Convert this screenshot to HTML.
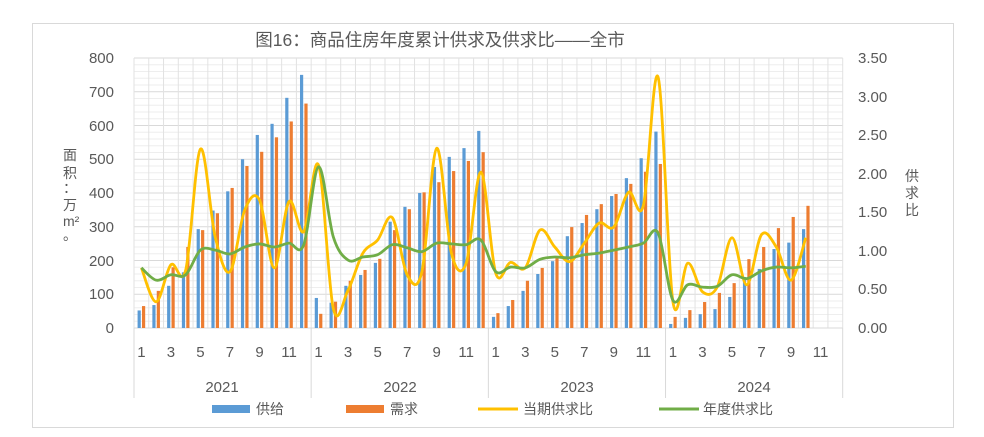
<!DOCTYPE html>
<html><head><meta charset="utf-8"><style>
body{margin:0;background:#fff;width:984px;height:437px;overflow:hidden}
svg{position:absolute;left:0;top:0}
text{font-family:"Liberation Sans","Noto Sans CJK SC",sans-serif;fill:#595959}
</style></head><body>
<svg id="s" width="984" height="437" xmlns="http://www.w3.org/2000/svg">
<rect x="32.5" y="23.5" width="921" height="404" fill="#fff" stroke="#d9d9d9"/>
<text x="440" y="46" font-size="17.5" text-anchor="middle">图16：商品住房年度累计供求及供求比——全市</text>
<g id="grid"></g>
<g id="bars"></g>
<g id="lines"></g>
<g font-size="15" text-anchor="end">
<text x="114" y="333">0</text><text x="114" y="299">100</text><text x="114" y="266">200</text><text x="114" y="232">300</text>
<text x="114" y="198">400</text><text x="114" y="164">500</text><text x="114" y="131">600</text><text x="114" y="97">700</text><text x="114" y="63">800</text>
</g>
<g font-size="15" text-anchor="start">
<text x="858" y="333">0.00</text><text x="858" y="294">0.50</text><text x="858" y="256">1.00</text><text x="858" y="217">1.50</text>
<text x="858" y="179">2.00</text><text x="858" y="140">2.50</text><text x="858" y="102">3.00</text><text x="858" y="63">3.50</text>
</g>
<g font-size="14">
<text x="63" y="160">面</text><text x="63" y="178">积</text><text x="63" y="193">：</text><text x="63" y="210">万</text><text x="63" y="226">m²</text><text x="63" y="240">。</text>
<text x="905" y="181">供</text><text x="905" y="198">求</text><text x="905" y="215">比</text>
</g>
<g id="xl" font-size="15" text-anchor="middle"></g>
<g font-size="15" text-anchor="middle">
<text x="222" y="392">2021</text><text x="400" y="392">2022</text><text x="577" y="392">2023</text><text x="754" y="392">2024</text>
</g>
<g font-size="14">
<rect x="212" y="405" width="38" height="8" fill="#5b9bd5"/><text x="256" y="414">供给</text>
<rect x="346" y="405" width="38" height="8" fill="#ed7d31"/><text x="390" y="414">需求</text>
<line x1="478" y1="409" x2="518" y2="409" stroke="#ffc000" stroke-width="3"/><text x="523" y="414">当期供求比</text>
<line x1="659" y1="409" x2="699" y2="409" stroke="#70ad47" stroke-width="3"/><text x="703" y="414">年度供求比</text>
</g>
</svg>
<script>
var NS="http://www.w3.org/2000/svg";
function el(p,t,a){var e=document.createElementNS(NS,t);for(var k in a)e.setAttribute(k,a[k]);document.getElementById(p).appendChild(e);return e;}
var L=134,R=842.7,T=58,B=328,N=48,W=(R-L)/N;
function cx(i){return L+W*(i+0.5);}
function yl(v){return B-v*(B-T)/800;}
function yr(v){return B-v*(B-T)/3.5;}
for(var v=20;v<=800;v+=20){if(v%100)el("grid","line",{x1:L,x2:R,y1:yl(v),y2:yl(v),stroke:"#eeeeee","stroke-width":1});}
for(var v=100;v<=800;v+=100)el("grid","line",{x1:L,x2:R,y1:yl(v),y2:yl(v),stroke:"#d9d9d9","stroke-width":1});
for(var i=0;i<=N;i++)el("grid","line",{x1:L+W*i,x2:L+W*i,y1:T,y2:B,stroke:"#e2e2e2","stroke-width":1});
el("grid","line",{x1:L,x2:R,y1:B,y2:B,stroke:"#d9d9d9","stroke-width":1});
[0,12,24,36,48].forEach(function(k){el("grid","line",{x1:L+W*k,x2:L+W*k,y1:B,y2:398,stroke:"#d9d9d9","stroke-width":1});});
for(var y=0;y<4;y++)for(var m=1;m<=11;m+=2){var t=el("xl","text",{x:cx(y*12+m-1),y:357});t.textContent=m;}
var sup=[52,68,125,165,293,348,405,500,572,605,682,750, 89,75,125,157,193,315,359,400,477,507,533,584, 33,65,110,160,198,272,311,352,391,444,503,582, 12,30,41,56,92,151,175,234,253,293];
var dem=[65,110,180,240,290,340,415,480,522,565,612,665, 42,78,140,172,205,290,352,402,432,465,495,521, 44,83,140,178,207,299,335,367,397,427,463,486, 33,53,77,104,133,204,240,296,329,362];
for(var i=0;i<sup.length;i++){var c=cx(i);
el("bars","rect",{x:c-3.8,y:yl(sup[i]),width:3.2,height:B-yl(sup[i]),fill:"#5b9bd5"});
el("bars","rect",{x:c+0.6,y:yl(dem[i]),width:3.2,height:B-yl(dem[i]),fill:"#ed7d31"});}
var yel=[0.78,0.34,0.82,0.75,2.32,1.18,0.73,1.53,1.66,0.78,1.64,1.25, 2.11,0.25,0.49,0.97,1.14,1.43,0.69,0.73,2.33,0.97,0.84,2.02, 0.71,0.85,0.78,1.27,1.05,0.86,1.10,1.36,1.31,1.76,1.59,3.25, 0.34,0.84,0.47,0.53,1.17,0.56,1.21,1.05,0.62,1.17];
var grn=[0.78,0.62,0.69,0.69,1.01,1.01,0.96,1.05,1.09,1.05,1.10,1.08, 2.09,1.18,0.88,0.92,0.95,1.08,1.04,0.99,1.10,1.09,1.08,1.14, 0.73,0.79,0.78,0.89,0.92,0.91,0.95,0.97,1.01,1.05,1.10,1.23, 0.36,0.56,0.53,0.54,0.69,0.64,0.74,0.79,0.78,0.80];
function path(d){var p=d.map(function(v,i){return[cx(i),yr(v)];});var s="M"+p[0][0]+","+p[0][1];
for(var i=0;i<p.length-1;i++){var p0=p[i-1]||p[i],p1=p[i],p2=p[i+1],p3=p[i+2]||p2;
s+=" C"+(p1[0]+(p2[0]-p0[0])/6)+","+(p1[1]+(p2[1]-p0[1])/6)+" "+(p2[0]-(p3[0]-p1[0])/6)+","+(p2[1]-(p3[1]-p1[1])/6)+" "+p2[0]+","+p2[1];}return s;}
el("lines","path",{d:path(yel),fill:"none",stroke:"#ffc000","stroke-width":2.8,"stroke-linejoin":"round"});
el("lines","path",{d:path(grn),fill:"none",stroke:"#70ad47","stroke-width":2.8,"stroke-linejoin":"round"});
</script>
</body></html>
